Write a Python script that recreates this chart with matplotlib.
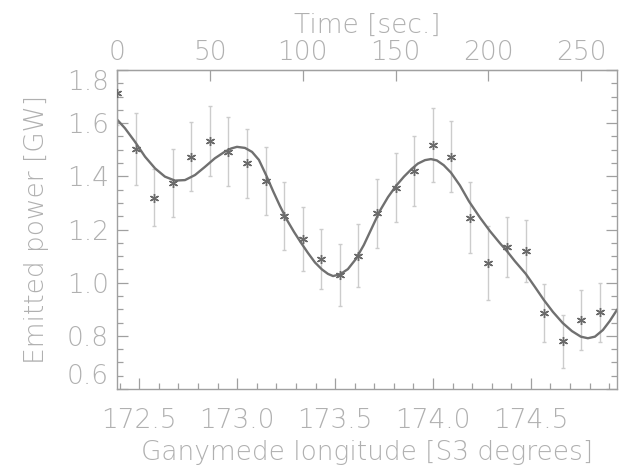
#!/usr/bin/env python3

import numpy as np
import matplotlib
matplotlib.use('Agg')
import matplotlib.pyplot as plt
from matplotlib.ticker import MultipleLocator

# longitude of Ganymede at t = 0 and seconds per degree of S3 longitude
LON0 = 172.386
SEC_PER_DEG = 105.4

# measured emitted power, one sample every 10 s
time_s = [0, 10, 20, 30, 40, 50, 60, 70, 80, 90, 100, 110, 120, 130,
          140, 150, 160, 170, 180, 190, 200, 210, 220, 230, 240, 250, 260]
power_gw = [1.712, 1.503, 1.320, 1.374, 1.474, 1.533, 1.493, 1.449, 1.382,
            1.252, 1.164, 1.089, 1.030, 1.101, 1.261, 1.357, 1.420, 1.518,
            1.474, 1.245, 1.073, 1.133, 1.118, 0.886, 0.780, 0.859, 0.888]
power_err = [0.120, 0.135, 0.107, 0.128, 0.130, 0.130, 0.130, 0.130, 0.128,
             0.128, 0.120, 0.113, 0.116, 0.118, 0.130, 0.130, 0.132, 0.138,
             0.133, 0.135, 0.140, 0.113, 0.116, 0.110, 0.100, 0.113, 0.110]

# smooth fit through the measurements
fit_time_s = [0.0, 4.3, 9.7, 15.1, 20.5, 25.8, 31.2, 36.6, 42.0, 47.4, 52.7,
              58.1, 61.5, 64.6, 68.9, 72.7, 76.4, 80.2, 84.0, 87.7, 91.5,
              95.3, 99.0, 102.8, 106.6, 110.3, 113.6, 116.3, 120.0, 124.3,
              128.6, 132.9, 137.2, 141.5, 145.9, 150.2, 154.5, 158.8, 162.0,
              165.8, 169.0, 172.2, 175.9, 179.8, 184.6, 189.5, 195.4, 200.8,
              206.1, 209.9, 214.2, 220.1, 225.0, 229.8, 234.7, 240.0, 244.9,
              249.7, 253.5, 257.3, 261.6, 265.3, 269.1]
fit_gw = [1.614, 1.581, 1.530, 1.474, 1.430, 1.399, 1.384, 1.386, 1.405,
          1.436, 1.468, 1.493, 1.505, 1.511, 1.507, 1.492, 1.462, 1.406,
          1.345, 1.289, 1.236, 1.191, 1.151, 1.112, 1.076, 1.050, 1.033,
          1.025, 1.031, 1.051, 1.089, 1.142, 1.206, 1.270, 1.322, 1.364,
          1.399, 1.429, 1.448, 1.461, 1.465, 1.460, 1.442, 1.414, 1.366,
          1.306, 1.245, 1.194, 1.149, 1.119, 1.081, 1.033, 0.984, 0.935,
          0.890, 0.848, 0.818, 0.797, 0.791, 0.797, 0.822, 0.856, 0.897]


def sec2lon(t):
    return LON0 + np.asarray(t) / SEC_PER_DEG


def lon2sec(lon):
    return (np.asarray(lon) - LON0) * SEC_PER_DEG


TXT = '#b0b0b0'
FRAME = '#a0a0a0'
FS = 19

plt.rcParams['font.family'] = ['DejaVu Sans']
plt.rcParams['font.weight'] = 'light'
plt.rcParams['axes.labelweight'] = 'light'

fig = plt.figure(figsize=(6.19, 4.70), dpi=100)
ax = fig.add_axes([0.189, 0.1723, 0.8078, 0.6787])

ax.errorbar(sec2lon(time_s), power_gw, yerr=power_err, fmt='none',
            ecolor='#cccccc', elinewidth=1.0, capsize=1.5, capthick=1.0, zorder=1)
ax.plot(sec2lon(fit_time_s), fit_gw, color='#707070', linewidth=1.7, zorder=2)
ax.plot(sec2lon(time_s), power_gw, linestyle='none', marker=(6, 2, 0),
        markersize=6.5, markeredgewidth=1.0, color='#6a6a6a', zorder=3)

ax.set_xlim(172.386, 174.94)
ax.set_ylim(0.6, 1.8)

ax.xaxis.set_minor_locator(MultipleLocator(0.1))
ax.yaxis.set_minor_locator(MultipleLocator(0.05))
ax.set_xticks([172.5, 173.0, 173.5, 174.0, 174.5])
ax.set_xticklabels(['172.5', '173.0', '173.5', '174.0', '174.5'])
yt = [0.6, 0.8, 1.0, 1.2, 1.4, 1.6, 1.8]
ax.set_yticks(yt)
ax.set_yticklabels([f'{v:.1f}' for v in yt])
labs = ax.get_yticklabels()
labs[0].set_va('bottom')
labs[-1].set_va('top')

ax.tick_params(axis='both', which='both', direction='in', color=FRAME,
               labelcolor=TXT, labelsize=FS, width=0.9)
ax.tick_params(axis='both', which='major', length=8)
ax.tick_params(axis='both', which='minor', length=4)
ax.tick_params(axis='y', which='both', right=True, pad=6)
ax.tick_params(axis='x', which='both', top=False, pad=14)
for s in ax.spines.values():
    s.set_color(FRAME)
    s.set_linewidth(1.0)

ax.set_xlabel('Ganymede longitude [S3 degrees]', fontsize=FS, color=TXT,
              fontweight='light', va='center')
ax.xaxis.set_label_coords(0.5, -0.1975)
ax.set_ylabel('Emitted power [GW]', fontsize=FS, color=TXT,
              fontweight='light', va='center')
ax.yaxis.set_label_coords(-0.16, 0.5)

secax = ax.secondary_xaxis('top', functions=(lon2sec, sec2lon))
secax.set_xticks([0, 50, 100, 150, 200, 250])
secax.tick_params(axis='x', direction='in', length=8, width=0.9, color=FRAME,
                  labelcolor=TXT, labelsize=FS, pad=3.5)
secax.spines['top'].set_color(FRAME)
ax.text(0.5, 1.141, 'Time [sec.]', transform=ax.transAxes, fontsize=FS,
        color=TXT, ha='center', va='center')

fig.savefig('out.png', dpi=100)
